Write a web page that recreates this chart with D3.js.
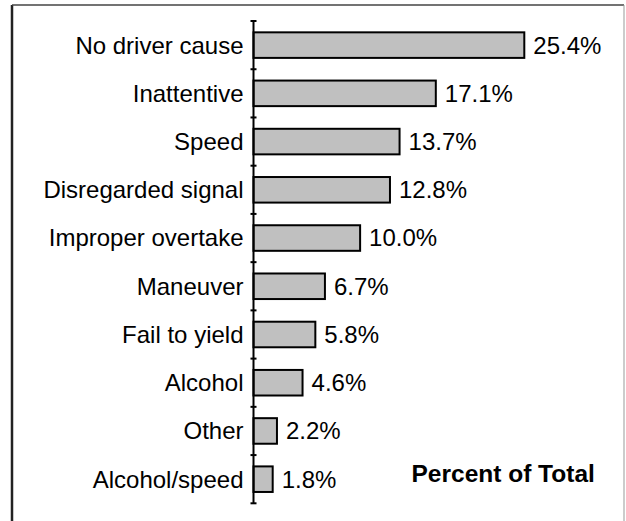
<!DOCTYPE html>
<meta charset="utf-8">
<style>
  body { margin: 0; background: #fff; }
  svg text { font-family: "Liberation Sans", Arial, sans-serif; fill: #000; }
</style>
<svg width="626" height="521"></svg>
<script src="https://cdn.jsdelivr.net/npm/d3@7"></script>
<script>

var categories = ["No driver cause", "Inattentive", "Speed", "Disregarded signal",
  "Improper overtake", "Maneuver", "Fail to yield", "Alcohol", "Other", "Alcohol/speed"];
var values = [25.4, 17.1, 13.7, 12.8, 10.0, 6.7, 5.8, 4.6, 2.2, 1.8];
var valueLabels = ["25.4%", "17.1%", "13.7%", "12.8%", "10.0%", "6.7%", "5.8%", "4.6%", "2.2%", "1.8%"];
var axisTitle = "Percent of Total";

var svg = d3.select("svg");

// frame round the chart (bottom edge falls outside the picture)
svg.append("line").attr("x1", 12).attr("x2", 12).attr("y1", 5).attr("y2", 521)
    .attr("stroke", "#222").attr("stroke-width", 2.5);
svg.append("line").attr("x1", 12).attr("x2", 624).attr("y1", 5).attr("y2", 5)
    .attr("stroke", "#444").attr("stroke-width", 1.5);
svg.append("line").attr("x1", 624).attr("x2", 624).attr("y1", 5).attr("y2", 521)
    .attr("stroke", "#999").attr("stroke-width", 1);

var x = d3.scaleLinear().domain([0, 25.4]).range([253.5, 524.3]);

var y = d3.scaleBand()
    .domain(categories)
    .range([21, 503.3])
    .paddingInner(0.47)
    .paddingOuter(0.235);

var yEdge = d3.scaleBand().domain(categories).range([21, 503.3]).padding(0);

var g = svg.append("g");

g.selectAll(".bar")
    .data(values)
  .enter().append("rect")
    .attr("class", "bar")
    .attr("x", x(0))
    .attr("y", function(d, i) { return y(categories[i]); })
    .attr("width", function(d) { return x(d) - x(0); })
    .attr("height", y.bandwidth())
    .attr("fill", "#c0c0c0")
    .attr("stroke", "#000")
    .attr("stroke-width", 2);

// axis line and ticks at band edges
g.append("line")
    .attr("x1", x(0)).attr("x2", x(0))
    .attr("y1", yEdge.range()[0]).attr("y2", yEdge.range()[1])
    .attr("stroke", "#000").attr("stroke-width", 2);

var edges = categories.map(function(c) { return yEdge(c); }).concat([yEdge.range()[1]]);
g.selectAll(".tick")
    .data(edges)
  .enter().append("line")
    .attr("class", "tick")
    .attr("x1", x(0) - 3).attr("x2", x(0) + 3)
    .attr("y1", function(d) { return d; }).attr("y2", function(d) { return d; })
    .attr("stroke", "#000").attr("stroke-width", 2);

g.selectAll(".cat")
    .data(categories)
  .enter().append("text")
    .attr("class", "cat")
    .attr("x", x(0) - 10)
    .attr("y", function(d) { return y(d) + y.bandwidth() / 2; })
    .attr("dy", "0.35em")
    .attr("text-anchor", "end")
    .style("font-size", "24px")
    .text(function(d) { return d; });

g.selectAll(".val")
    .data(values)
  .enter().append("text")
    .attr("class", "val")
    .attr("x", function(d) { return x(d) + 9; })
    .attr("y", function(d, i) { return y(categories[i]) + y.bandwidth() / 2; })
    .attr("dy", "0.35em")
    .style("font-size", "24px")
    .text(function(d, i) { return valueLabels[i]; });

svg.append("text")
    .attr("x", 411.5).attr("y", 481.5)
    .style("font-size", "24.5px")
    .style("font-weight", "bold")
    .text(axisTitle);

</script>
